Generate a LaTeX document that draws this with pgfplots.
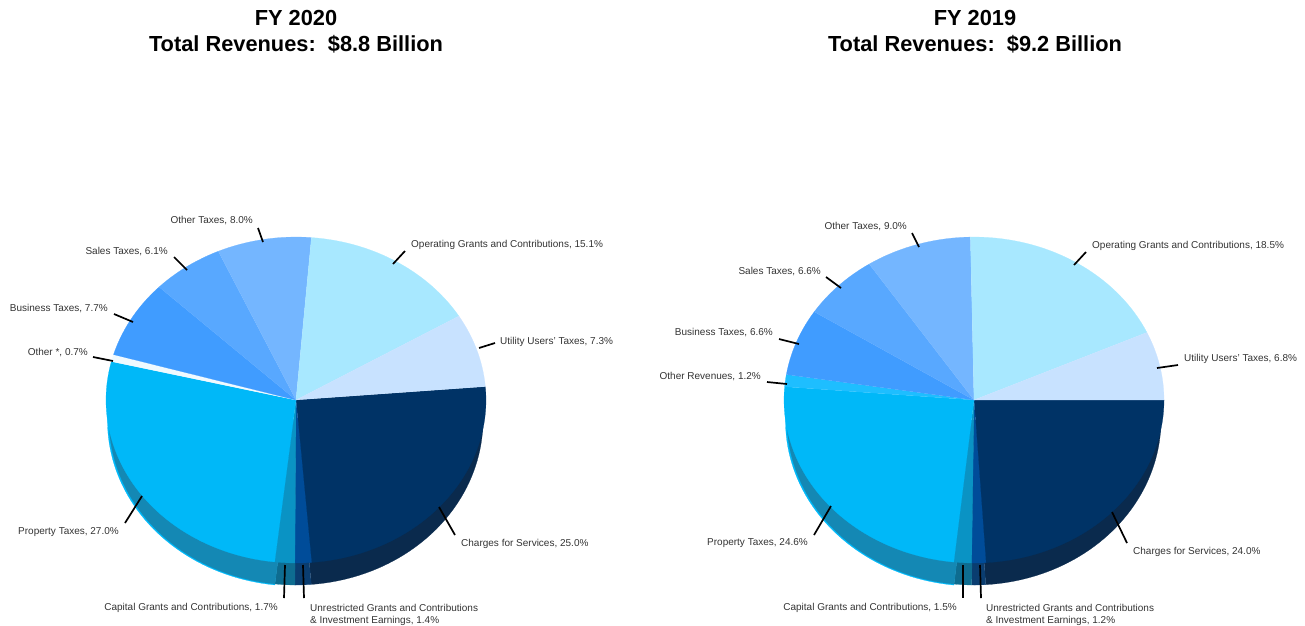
\documentclass[border=0pt]{standalone}
\usepackage{pgfplots}
\pgfplotsset{compat=1.18}
\usepackage{fontspec}
\setmainfont{Liberation Sans}

\definecolor{charges}{HTML}{003366}
\definecolor{unres}{HTML}{004C99}
\definecolor{capital}{HTML}{0A93C4}
\definecolor{property}{HTML}{00B8F8}
\definecolor{otherrev}{HTML}{1EBEFF}
\definecolor{otherstar}{HTML}{F0FAFF}
\definecolor{business}{HTML}{409CFF}
\definecolor{sales}{HTML}{58A8FF}
\definecolor{othertax}{HTML}{74B6FF}
\definecolor{operating}{HTML}{A8E8FF}
\definecolor{utility}{HTML}{C8E2FF}
\definecolor{chargesS}{HTML}{0A2A4D}
\definecolor{unresS}{HTML}{0A3D70}
\definecolor{capitalS}{HTML}{0E6C90}
\definecolor{propertyS}{HTML}{1488B4}
\definecolor{labeltext}{HTML}{333333}

% one wedge of the ellipse, from angle #5 clockwise over #6 percent
\newcommand{\wedgeplot}[7]{%
  \xdef\pts{(#1,#2)}%
  \pgfmathsetmacro{\sweep}{3.6*#6}%
  \pgfmathtruncatemacro{\nseg}{ceil(\sweep/2)+1}%
  \foreach \i in {0,...,\nseg}{%
    \pgfmathsetmacro{\t}{#5-\sweep*\i/\nseg}%
    \pgfmathsetmacro{\px}{#1+#3*cos(\t)}%
    \pgfmathsetmacro{\py}{#2-#4*sin(\t)}%
    \xdef\pts{\pts (\px,\py)}%
  }%
  \edef\temp{\noexpand\addplot[fill=#7,draw=#7,line width=0.2pt] coordinates {\pts};}%
  \temp
}
% slices: list of percent/colour, clockwise from angle #5
\newcommand{\slices}[6]{%
  \xdef\cur{#5}%
  \foreach \p/\c in {#6}{%
    \wedgeplot{#1}{#2}{#3}{#4}{\cur}{\p}{\c}%
    \pgfmathsetmacro{\nxt}{\cur-3.6*\p}%
    \xdef\cur{\nxt}%
  }%
}
\newcommand{\leader}[4]{\addplot[black,line width=1.7pt] coordinates {(#1,#2) (#3,#4)};}
\newcommand{\lab}[4][west]{\node[anchor=#1,yshift=-1.5pt,font=\fontsize{10}{12}\selectfont,text=labeltext,inner sep=0pt,align=left] at (axis cs:#2,#3) {#4};}

\begin{document}
\begin{tikzpicture}
\begin{axis}[
  scale only axis,
  width=1305pt,
  height=624pt,
  xmin=0,xmax=1305,
  ymin=0,ymax=624,
  y dir=reverse,
  hide axis,
  clip=false,
]
\path (axis cs:0,0) rectangle (axis cs:1305,624);
% FY 2020
\slices{296}{421}{188.5}{165}{-96.46}{27/property}
\slices{296}{420}{187}{165}{4.7}{25/chargesS,1.4/unresS,1.7/capitalS,27/propertyS}
\slices{296}{400}{190}{163}{4.7}{25/charges,1.4/unres,1.7/capital,27/property,0.7/otherstar,7.7/business,6.1/sales,8/othertax,15.1/operating,7.3/utility}
% FY 2019
\slices{974}{421}{188.5}{165}{-96.12}{24.6/property}
\slices{974}{420}{187}{165}{0}{24/chargesS,1.2/unresS,1.5/capitalS,24.6/propertyS}
\slices{974}{400}{190}{163}{0}{24/charges,1.2/unres,1.5/capital,24.6/property,1.2/otherrev,6.6/business,6.6/sales,9/othertax,18.5/operating,6.8/utility}

\leader{258}{228}{263}{242}
\leader{405}{251}{393}{264}
\leader{495}{343}{479}{348}
\leader{93}{357}{113}{361}
\leader{114}{314}{133}{322}
\leader{174}{257}{187}{270}
\leader{125}{523}{142}{496}
\leader{285}{565}{284}{598}
\leader{303}{565}{304}{598}
\leader{455}{535}{439}{507}

\leader{912}{233}{919}{247}
\leader{1086}{252}{1074}{265}
\leader{1178}{365}{1157}{368}
\leader{767}{382}{787}{384}
\leader{779}{339}{799}{344}
\leader{826}{277}{841}{288}
\leader{814}{535}{831}{506}
\leader{963}{565}{963}{598}
\leader{980}{565}{981}{598}
\leader{1127}{543}{1112}{512}

\node[font=\bfseries\fontsize{21.8}{26}\selectfont,align=center] at (axis cs:296,32) {FY 2020\\Total Revenues:\ \ \$8.8 Billion};
\node[font=\bfseries\fontsize{21.8}{26}\selectfont,align=center] at (axis cs:975,32) {FY 2019\\Total Revenues:\ \ \$9.2 Billion};

\lab[east]{253}{219}{Other Taxes, 8.0\%}
\lab{411}{243}{Operating Grants and Contributions, 15.1\%}
\lab{500}{340}{Utility Users' Taxes, 7.3\%}
\lab[east]{88}{351}{Other *, 0.7\%}
\lab[east]{108}{307}{Business Taxes, 7.7\%}
\lab[east]{168}{250}{Sales Taxes, 6.1\%}
\lab[east]{119}{531}{Property Taxes, 27.0\%}
\lab[east]{278}{606}{Capital Grants and Contributions, 1.7\%}
\lab{310}{613}{Unrestricted Grants and Contributions\\\& Investment Earnings, 1.4\%}
\lab{461}{542}{Charges for Services, 25.0\%}

\lab[east]{907}{225}{Other Taxes, 9.0\%}
\lab{1092}{244}{Operating Grants and Contributions, 18.5\%}
\lab{1184}{357}{Utility Users' Taxes, 6.8\%}
\lab[east]{761}{375}{Other Revenues, 1.2\%}
\lab[east]{773}{331}{Business Taxes, 6.6\%}
\lab[east]{821}{270}{Sales Taxes, 6.6\%}
\lab[east]{808}{542}{Property Taxes, 24.6\%}
\lab[east]{957}{606}{Capital Grants and Contributions, 1.5\%}
\lab{986}{613}{Unrestricted Grants and Contributions\\\& Investment Earnings, 1.2\%}
\lab{1133}{550}{Charges for Services, 24.0\%}
\end{axis}
\end{tikzpicture}
\end{document}
